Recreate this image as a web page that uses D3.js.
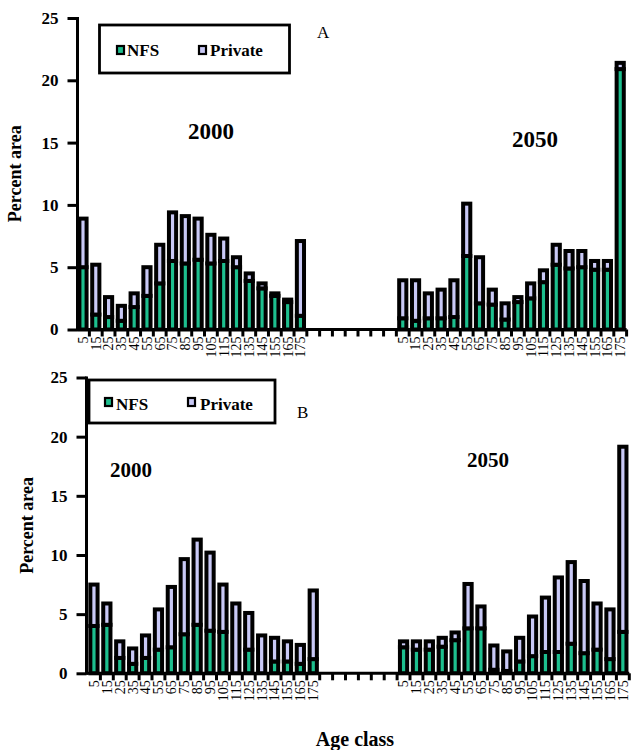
<!DOCTYPE html>
<html>
<head>
<meta charset="utf-8">
<script src="https://cdn.jsdelivr.net/npm/d3@7"></script>
<style>
  html, body { margin: 0; padding: 0; background: #fff; }
  svg { display: block; }
  text { font-family: "Liberation Serif", "Times New Roman", serif; }
</style>
</head>
<body>
<svg id="chart" width="631" height="750"></svg>
<script>
// ---- data ----
const ageClasses = ["5","15","25","35","45","55","65","75","85","95","105","115","125","135","145","155","165","175"];
const yTicks = [0, 5, 10, 15, 20, 25];
const seriesNames = ["NFS", "Private"];

// Panel A
const a2000NFS     = [5.0, 1.2, 1.0, 0.7, 1.8, 2.7, 3.7, 5.5, 5.3, 5.6, 5.3, 5.5, 5.0, 3.9, 3.3, 2.7, 2.2, 1.1];
const a2000Private = [3.9, 4.0, 1.6, 1.2, 1.1, 2.3, 3.1, 3.9, 3.8, 3.3, 2.3, 1.8, 0.8, 0.6, 0.4, 0.2, 0.2, 6.0];
const a2050NFS     = [0.9, 0.7, 0.9, 0.9, 1.0, 5.9, 2.1, 2.0, 0.8, 2.2, 2.5, 3.8, 5.2, 4.9, 5.0, 4.8, 4.8, 20.9];
const a2050Private = [3.05, 3.25, 2.0, 2.3, 2.95, 4.2, 3.7, 1.2, 1.3, 0.4, 1.2, 0.95, 1.6, 1.4, 1.3, 0.7, 0.7, 0.5];
// Panel B
const b2000NFS     = [4.0, 4.1, 1.3, 0.8, 1.3, 2.0, 2.2, 3.3, 4.1, 3.6, 3.5, 0.0, 2.0, 0.0, 1.0, 1.0, 0.8, 1.2];
const b2000Private = [3.5, 1.8, 1.4, 1.3, 1.9, 3.4, 5.1, 6.35, 7.2, 6.6, 4.0, 5.9, 3.1, 3.2, 2.0, 1.7, 1.6, 5.8];
const b2050NFS     = [2.2, 2.0, 2.0, 2.25, 2.8, 3.8, 3.8, 0.3, 0.2, 1.0, 1.45, 1.8, 1.8, 2.5, 1.7, 2.0, 1.2, 3.5];
const b2050Private = [0.5, 0.7, 0.7, 0.75, 0.65, 3.75, 1.85, 2.05, 1.65, 2.0, 3.35, 4.6, 6.3, 6.9, 6.1, 3.9, 4.2, 15.65];

const colNFS = "#1dbf8e";
const colPrivate = "#c9c9f6";

const svg = d3.select("#chart");

function drawPanel(p) {
  const g = svg.append("g");
  const cats = [];
  ageClasses.forEach(a => cats.push("2000-" + a));
  for (let i = 0; i < p.gap; i++) cats.push("gap-" + i);
  ageClasses.forEach(a => cats.push("2050-" + a));

  const x = d3.scaleBand().domain(cats).range([p.x0, p.x1]).paddingInner(0).paddingOuter(0);
  const y = d3.scaleLinear().domain([0, 25]).range([p.yBottom, p.yTop]);

  const rows = [];
  ageClasses.forEach((a, i) => rows.push({ key: "2000-" + a, NFS: p.nfs2000[i], Private: p.priv2000[i] }));
  ageClasses.forEach((a, i) => rows.push({ key: "2050-" + a, NFS: p.nfs2050[i], Private: p.priv2050[i] }));
  const stacked = d3.stack().keys(seriesNames)(rows);

  const bw = x.bandwidth() * 0.56;
  const colors = { NFS: colNFS, Private: colPrivate };
  stacked.forEach(layer => {
    g.append("g").selectAll("rect").data(layer).join("rect")
      .attr("x", d => x(d.data.key) + (x.bandwidth() - bw) / 2)
      .attr("width", bw)
      .attr("y", d => y(d[1]))
      .attr("height", d => Math.max(0, y(d[0]) - y(d[1])))
      .attr("fill", colors[layer.key])
      .attr("stroke", "#000")
      .attr("stroke-width", 4);
  });

  // x axis
  const xAxis = d3.axisBottom(x).tickSize(0).tickPadding(7)
    .tickFormat(c => c.startsWith("gap") ? "" : c.split("-")[1]);
  const xg = g.append("g").attr("transform", `translate(0,${p.yBottom})`).call(xAxis);
  xg.select(".domain").remove();
  xg.selectAll("text")
    .attr("transform", "rotate(-90)")
    .attr("text-anchor", "end")
    .attr("dy", "0.35em")
    .attr("x", -7)
    .attr("y", 0)
    .attr("font-size", 14)
    .attr("font-family", "Liberation Serif, serif")
    .attr("fill", "#000");
  const bounds = cats.map(c => x(c)).concat([p.x1]);
  g.append("g").selectAll("line").data(bounds.slice(1)).join("line")
    .attr("x1", d => d).attr("x2", d => d)
    .attr("y1", p.yBottom).attr("y2", p.yBottom + 7)
    .attr("stroke", "#000").attr("stroke-width", 3);
  g.append("line")
    .attr("x1", p.axisX).attr("x2", p.x1)
    .attr("y1", p.yBottom).attr("y2", p.yBottom)
    .attr("stroke", "#000").attr("stroke-width", 3);

  // y axis
  const yAxis = d3.axisLeft(y).tickValues(yTicks).tickSize(10).tickSizeOuter(0).tickPadding(9);
  const yg = g.append("g").attr("transform", `translate(${p.axisX},0)`).call(yAxis);
  yg.select(".domain").attr("stroke-width", 3).attr("d", `M0,${p.yTop - 1}V${p.yBottom + 1.5}`);
  yg.selectAll(".tick line").attr("stroke-width", 3);
  yg.selectAll("text")
    .attr("font-size", 17).attr("font-weight", "bold")
    .attr("font-family", "Liberation Serif, serif").attr("fill", "#000");

  g.append("text")
    .attr("transform", `translate(${p.titleX},${(p.yTop + p.yBottom) / 2}) rotate(-90)`)
    .attr("text-anchor", "middle")
    .attr("font-size", 18).attr("font-weight", "bold")
    .text("Percent area");

  // legend
  const lg = g.append("g");
  lg.append("rect")
    .attr("x", p.leg.x).attr("y", p.leg.y).attr("width", p.leg.w).attr("height", p.leg.h)
    .attr("fill", "#fff").attr("stroke", "#000").attr("stroke-width", 2.8);
  p.leg.items.forEach((it, i) => {
    lg.append("rect")
      .attr("x", it.mx).attr("y", it.my).attr("width", 7).attr("height", 8)
      .attr("fill", i === 0 ? colNFS : colPrivate)
      .attr("stroke", "#000").attr("stroke-width", 2.2);
    lg.append("text")
      .attr("x", it.tx).attr("y", it.ty)
      .attr("font-size", 17).attr("font-weight", "bold")
      .text(seriesNames[i]);
  });

  g.append("text").attr("x", p.letter.x).attr("y", p.letter.y)
    .attr("font-size", 17).text(p.letter.t);
  p.years.forEach(yr => {
    g.append("text").attr("x", yr.x).attr("y", yr.y)
      .attr("font-size", yr.s).attr("font-weight", "bold").text(yr.t);
  });
}

drawPanel({
  gap: 7, x0: 76.6, x1: 626.6, axisX: 77.5, yTop: 18, yBottom: 329.5, titleX: 21,
  nfs2000: a2000NFS, priv2000: a2000Private, nfs2050: a2050NFS, priv2050: a2050Private,
  leg: { x: 99.5, y: 25, w: 190, h: 48,
    items: [ { mx: 117, my: 46, tx: 127, ty: 56 }, { mx: 199, my: 46, tx: 210, ty: 56 } ] },
  letter: { x: 317, y: 38, t: "A" },
  years: [ { x: 188, y: 139, t: "2000", s: 23 }, { x: 512, y: 147, t: "2050", s: 23 } ]
});

drawPanel({
  gap: 6, x0: 87.5, x1: 629.3, axisX: 86.5, yTop: 377.5, yBottom: 673.3, titleX: 33,
  nfs2000: b2000NFS, priv2000: b2000Private, nfs2050: b2050NFS, priv2050: b2050Private,
  leg: { x: 89, y: 380, w: 186, h: 43,
    items: [ { mx: 105, my: 398, tx: 116, ty: 410 }, { mx: 188, my: 398, tx: 200, ty: 410 } ] },
  letter: { x: 297, y: 418, t: "B" },
  years: [ { x: 110, y: 477, t: "2000", s: 21 }, { x: 467, y: 467, t: "2050", s: 21 } ]
});

svg.append("text").attr("x", 355).attr("y", 746)
  .attr("text-anchor", "middle").attr("font-size", 20).attr("font-weight", "bold")
  .text("Age class");
</script>
</body>
</html>
